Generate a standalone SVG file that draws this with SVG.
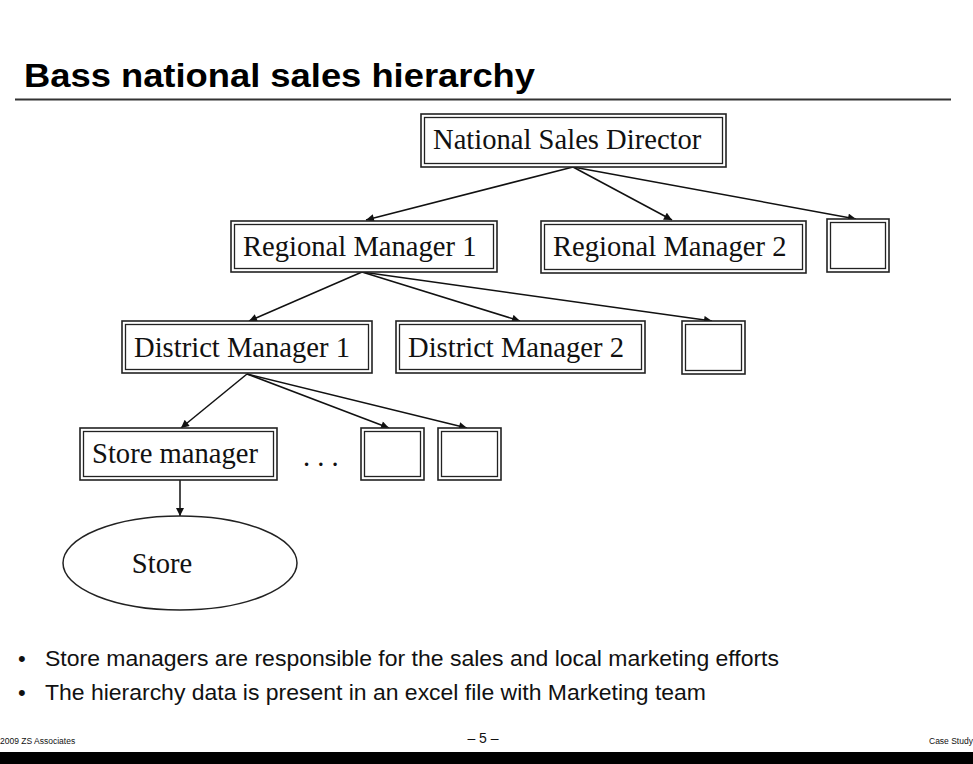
<svg xmlns="http://www.w3.org/2000/svg" width="973" height="764" viewBox="0 0 973 764">
<style>
.o{fill:#fff;stroke:#222;stroke-width:1.6}
.i{fill:none;stroke:#222;stroke-width:1.3}
.t{font-family:"Liberation Serif","Times New Roman",serif;font-size:28.6px;fill:#111}
.c{stroke:#111;stroke-width:1.5;fill:none;marker-end:url(#ah)}
.b{font-family:"Liberation Sans",Arial,sans-serif;font-size:22px;fill:#111}
</style>
<defs>
<marker id="ah" viewBox="0 0 10 10" refX="10" refY="5" markerWidth="10" markerHeight="8" markerUnits="userSpaceOnUse" orient="auto">
<path d="M0,0 L10,5 L0,10 z" fill="#111"/>
</marker>
</defs>
<rect width="973" height="764" fill="#fff"/>
<text x="24" y="87" font-family="Liberation Sans,Arial,sans-serif" font-weight="bold" font-size="33" textLength="511" lengthAdjust="spacingAndGlyphs" fill="#000">Bass national sales hierarchy</text>
<line x1="15" y1="99.5" x2="951" y2="99.5" stroke="#333" stroke-width="2"/>

<g id="connectors">
<line class="c" x1="573" y1="167" x2="366" y2="220"/>
<line class="c" x1="573" y1="167" x2="672" y2="220"/>
<line class="c" x1="573" y1="167" x2="856" y2="219"/>
<line class="c" x1="362" y1="272" x2="249" y2="321"/>
<line class="c" x1="362" y1="272" x2="520" y2="321"/>
<line class="c" x1="362" y1="272" x2="712" y2="321"/>
<line class="c" x1="247" y1="374" x2="181" y2="428"/>
<line class="c" x1="247" y1="374" x2="389" y2="428"/>
<line class="c" x1="247" y1="374" x2="467" y2="428"/>
<line class="c" x1="180" y1="480" x2="180" y2="516"/>
</g>

<g id="nsd"><rect class="o" x="421" y="114" width="305" height="53"/><rect class="i" x="424.5" y="117.5" width="298" height="46"/><text class="t" x="433" y="149">National Sales Director</text></g>

<g id="rm1"><rect class="o" x="231" y="221" width="266" height="51"/><rect class="i" x="234.5" y="224.5" width="259" height="44"/><text class="t" x="243" y="256">Regional Manager 1</text></g>
<g id="rm2"><rect class="o" x="541" y="221" width="265" height="52"/><rect class="i" x="544.5" y="224.5" width="258" height="45"/><text class="t" x="553" y="256">Regional Manager 2</text></g>
<g id="rm3"><rect class="o" x="827" y="219" width="62" height="53"/><rect class="i" x="830.5" y="222.5" width="55" height="46"/></g>

<g id="dm1"><rect class="o" x="122" y="321" width="250" height="52"/><rect class="i" x="125.5" y="324.5" width="243" height="45"/><text class="t" x="134" y="357">District Manager 1</text></g>
<g id="dm2"><rect class="o" x="396" y="321" width="249" height="52"/><rect class="i" x="399.5" y="324.5" width="242" height="45"/><text class="t" x="408" y="357">District Manager 2</text></g>
<g id="dm3"><rect class="o" x="682" y="321" width="63" height="53"/><rect class="i" x="685.5" y="324.5" width="56" height="46"/></g>

<g id="sm"><rect class="o" x="80" y="428" width="197" height="52"/><rect class="i" x="83.5" y="431.5" width="190" height="45"/><text class="t" x="92" y="463">Store manager</text></g>
<g id="dots"><text class="t" x="303" y="466">. . .</text></g>
<g id="sm2"><rect class="o" x="361" y="428" width="63" height="52"/><rect class="i" x="364.5" y="431.5" width="56" height="45"/></g>
<g id="sm3"><rect class="o" x="438" y="428" width="63" height="52"/><rect class="i" x="441.5" y="431.5" width="56" height="45"/></g>

<g id="store"><ellipse cx="180" cy="563" rx="117" ry="47" fill="#fff" stroke="#222" stroke-width="1.5"/><text class="t" x="162" y="573" text-anchor="middle">Store</text></g>

<text class="b" x="18" y="666">•</text>
<text class="b" x="45" y="666" textLength="734" lengthAdjust="spacingAndGlyphs">Store managers are responsible for the sales and local marketing efforts</text>
<text class="b" x="18" y="700">•</text>
<text class="b" x="45" y="700" textLength="661" lengthAdjust="spacingAndGlyphs">The hierarchy data is present in an excel file with Marketing team</text>

<text x="0" y="744" font-family="Liberation Sans,Arial,sans-serif" font-size="8.5" fill="#111">2009 ZS Associates</text>
<text x="483" y="743" text-anchor="middle" font-family="Liberation Sans,Arial,sans-serif" font-size="14" fill="#111">– 5 –</text>
<text x="929" y="744" font-family="Liberation Sans,Arial,sans-serif" font-size="8.5" fill="#111">Case Study</text>
<rect x="0" y="752" width="973" height="12" fill="#000"/>
</svg>
